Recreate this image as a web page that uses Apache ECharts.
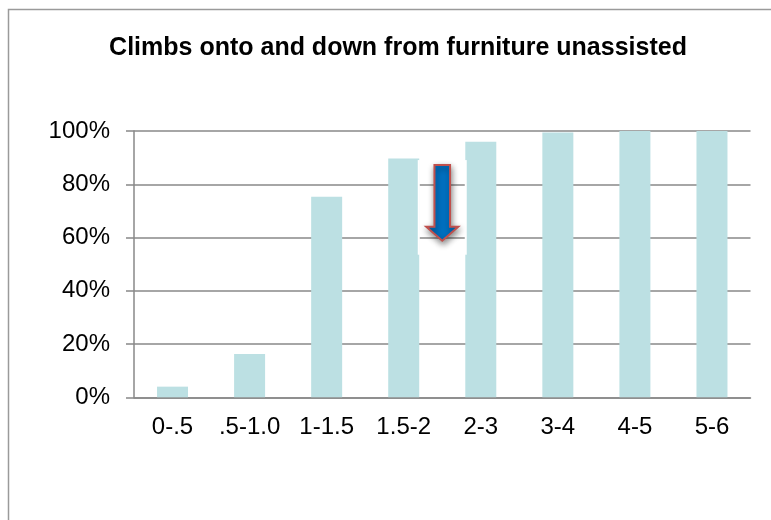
<!DOCTYPE html>
<html>
<head>
<meta charset="utf-8">
<script src="https://cdn.jsdelivr.net/npm/echarts@6/dist/echarts.min.js"></script>
<style>
html,body{margin:0;padding:0;background:#fff;}
#chart{width:771px;height:520px;}
</style>
</head>
<body>
<div id="chart"></div>
<script>
const titleText = 'Climbs onto and down from furniture unassisted';
const categories = ['0-.5', '.5-1.0', '1-1.5', '1.5-2', '2-3', '3-4', '4-5', '5-6'];
const values = [4, 16.3, 75.3, 89.7, 96, 99.4, 100, 100];
const yTicks = [0, 20, 40, 60, 80, 100];
// annotation arrow: between categories index 3 and 4, from 87% down to 59%
const arrowBetween = [3, 4];
const arrowFrom = 87.2;
const arrowTo = 58.8;

const chart = echarts.init(document.getElementById('chart'), null, {renderer: 'canvas'});
const FONT = 'Liberation Sans, Arial, sans-serif';

chart.setOption({
  animation: false,
  backgroundColor: '#ffffff',
  title: {
    text: titleText,
    left: 393,
    top: 31,
    textAlign: 'center',
    textStyle: {fontFamily: FONT, fontSize: 25, fontWeight: 'bold', color: '#000'}
  },
  grid: {left: 134, right: 20.5, top: 131, bottom: 122.7, containLabel: false},
  xAxis: {
    type: 'category',
    data: categories,
    axisLine: {show: true, lineStyle: {color: '#888', width: 1.5}},
    axisTick: {show: false},
    axisLabel: {fontFamily: FONT, fontSize: 24, color: '#000', margin: 18, interval: 0}
  },
  yAxis: {
    type: 'value',
    min: yTicks[0],
    max: yTicks[yTicks.length - 1],
    interval: yTicks[1] - yTicks[0],
    axisLine: {show: true, lineStyle: {color: '#888', width: 1.5}},
    axisTick: {show: true, length: 8, lineStyle: {color: '#888', width: 1.5}},
    splitLine: {show: true, lineStyle: {color: '#888', width: 1.5}},
    axisLabel: {fontFamily: FONT, fontSize: 24, color: '#000', margin: 24, formatter: v => v + '%'}
  },
  series: [{
    type: 'bar',
    data: values,
    barWidth: 31,
    itemStyle: {color: '#BCE0E3'},
    z: 2
  }]
});

function drawArrow() {
  const a = chart.convertToPixel({gridIndex: 0}, [arrowBetween[0], arrowFrom]);
  const b = chart.convertToPixel({gridIndex: 0}, [arrowBetween[1], arrowTo]);
  const cx = (a[0] + b[0]) / 2;
  const yTop = a[1];
  const yTip = b[1];
  const shaftHalf = 7.8;
  const headHalf = 16;
  const headH = 14;
  const yBase = yTip - headH;
  const gh = yTip - yTop + 19;
  chart.setOption({
    graphic: [
      {
        type: 'rect',
        id: 'frame',
        shape: {x: 8.5, y: 9.5, width: 800, height: 600},
        style: {fill: 'none', stroke: '#9a9a9a', lineWidth: 1.5},
        silent: true, z: 100
      },
      {
        type: 'rect',
        id: 'glowL',
        shape: {x: cx - 24.5, y: yTop - 5, width: 2, height: gh},
        style: {fill: '#ffffff'},
        silent: true, z: 50
      },
      {
        type: 'rect',
        id: 'glowR',
        shape: {x: cx + 22.5, y: yTop - 5, width: 2, height: gh},
        style: {fill: '#ffffff'},
        silent: true, z: 50
      },
      {
        type: 'polygon',
        id: 'arrow',
        shape: {points: [
          [cx - shaftHalf, yTop], [cx + shaftHalf, yTop], [cx + shaftHalf, yBase],
          [cx + headHalf, yBase], [cx, yTip], [cx - headHalf, yBase], [cx - shaftHalf, yBase]
        ]},
        style: {
          fill: '#0070C0', stroke: '#C0504D', lineWidth: 2, lineJoin: 'miter',
          shadowBlur: 6, shadowColor: 'rgba(0,0,0,0.45)', shadowOffsetX: 1, shadowOffsetY: 3
        },
        silent: true, z: 60
      }
    ]
  });
}
drawArrow();
</script>
</body>
</html>
